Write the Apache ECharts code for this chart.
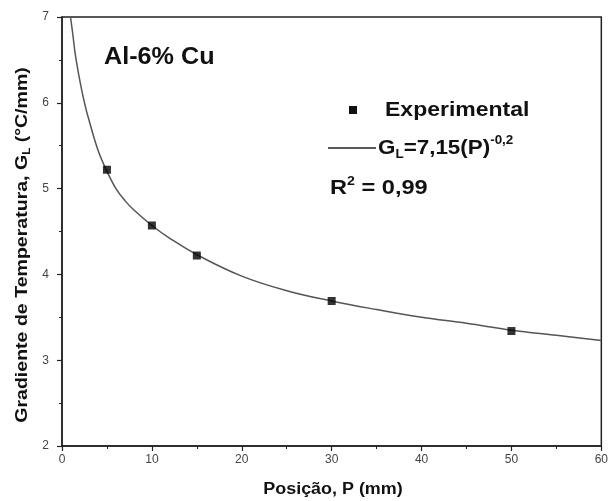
<!DOCTYPE html>
<html><head><meta charset="utf-8">
<script src="https://cdn.jsdelivr.net/npm/echarts@6/dist/echarts.min.js"></script>
<style>html,body{margin:0;padding:0;background:#fff}#c{width:611px;height:501px}</style>
</head><body><div id="c"></div>
<script>
const expP = [5, 10, 15, 30, 50];
const expG = [5.22, 4.57, 4.22, 3.69, 3.34];
const fitP = [0.95, 1.2, 1.5, 2, 2.5, 3, 4, 5, 6, 7, 8, 10, 12, 15, 20, 25, 30, 35, 40, 45, 50, 55, 60];
const fitG = [7.0, 6.8, 6.55, 6.25, 6.0, 5.8, 5.45, 5.2, 5.0, 4.86, 4.75, 4.57, 4.42, 4.23, 3.98, 3.81, 3.69, 3.59, 3.50, 3.43, 3.35, 3.29, 3.23];
const xTicks = [0, 10, 20, 30, 40, 50, 60];
const yTicks = [2, 3, 4, 5, 6, 7];

const F = '"Liberation Sans", Arial, sans-serif';
const chart = echarts.init(document.getElementById('c'));
chart.setOption({
  animation: false,
  grid: {left: 62, right: 5, top: 17, bottom: 55, show: true, borderColor: '#222', borderWidth: 1.5, backgroundColor: 'transparent'},
  xAxis: {
    type: 'value', min: xTicks[0], max: xTicks[xTicks.length-1], interval: 10,
    axisLine: {show: true, onZero: false, lineStyle: {color: '#222', width: 1.5}},
    axisTick: {show: true, inside: false, length: 5, lineStyle: {color: '#222', width: 1.2}},
    minorTick: {show: true, splitNumber: 2, length: 3, lineStyle: {color: '#222', width: 1}},
    splitLine: {show: false},
    axisLabel: {color: '#444', fontFamily: F, fontSize: 12, margin: 8}
  },
  yAxis: {
    type: 'value', min: yTicks[0], max: yTicks[yTicks.length-1], interval: 1,
    axisLine: {show: true, onZero: false, lineStyle: {color: '#222', width: 1.5}},
    axisTick: {show: true, inside: false, length: 5, lineStyle: {color: '#222', width: 1.2}},
    minorTick: {show: true, splitNumber: 2, length: 3, lineStyle: {color: '#222', width: 1}},
    splitLine: {show: false},
    axisLabel: {color: '#444', fontFamily: F, fontSize: 12, margin: 13}
  },
  graphic: [
    {type: 'text', x: 104, y: 57, scaleX: 1.05, style: {text: 'Al-6% Cu', font: 'bold 24px ' + F, fill: '#111', verticalAlign: 'middle'}},
    {type: 'rect', x: 349, y: 106, shape: {width: 8, height: 8}, style: {fill: '#111'}},
    {type: 'text', x: 385, y: 110, scaleX: 1.15, style: {text: 'Experimental', font: 'bold 20px ' + F, fill: '#111', verticalAlign: 'middle'}},
    {type: 'line', shape: {x1: 328, y1: 148, x2: 376, y2: 148}, style: {stroke: '#222', lineWidth: 1.5}},
    {type: 'text', x: 378, y: 148, scaleX: 1.12, style: {
      text: '{n|G}{s|L}{n|=7,15(P)}{p|-0,2}', verticalAlign: 'middle',
      rich: {
        n: {font: 'bold 20px ' + F, fill: '#111'},
        s: {font: 'bold 12px ' + F, fill: '#111', padding: [14, 0, 0, 0]},
        p: {font: 'bold 12px ' + F, fill: '#111', padding: [0, 0, 14, 0]}
      }
    }},
    {type: 'text', x: 330, y: 188, scaleX: 1.18, style: {
      text: '{n|R}{p|2}{n| = 0,99}', verticalAlign: 'middle',
      rich: {
        n: {font: 'bold 20px ' + F, fill: '#111'},
        p: {font: 'bold 12px ' + F, fill: '#111', padding: [0, 0, 12, 0]}
      }
    }},
    {type: 'text', x: 22, y: 245, rotation: Math.PI/2, scaleX: 1.15, style: {
      text: '{n|Gradiente de Temperatura, G}{s|L}{n| (°C/mm)}',
      align: 'center', verticalAlign: 'middle',
      rich: {
        n: {font: 'bold 17px ' + F, fill: '#111'},
        s: {font: 'bold 10px ' + F, fill: '#111', padding: [10, 0, 0, 0]}
      }
    }},
    {type: 'text', x: 333, y: 490, scaleX: 1.12, style: {
      text: 'Posição, P (mm)', font: 'bold 16px ' + F, fill: '#111', align: 'center', verticalAlign: 'middle'
    }}
  ],
  series: [
    {type: 'line', data: fitP.map((p, i) => [p, fitG[i]]), smooth: 0.4, showSymbol: false,
     lineStyle: {color: '#555', width: 1.5}, z: 2},
    {type: 'scatter', data: expP.map((p, i) => [p, expG[i]]), symbol: 'rect', symbolSize: 8,
     itemStyle: {color: '#000'}, z: 3}
  ]
});
</script></body></html>
